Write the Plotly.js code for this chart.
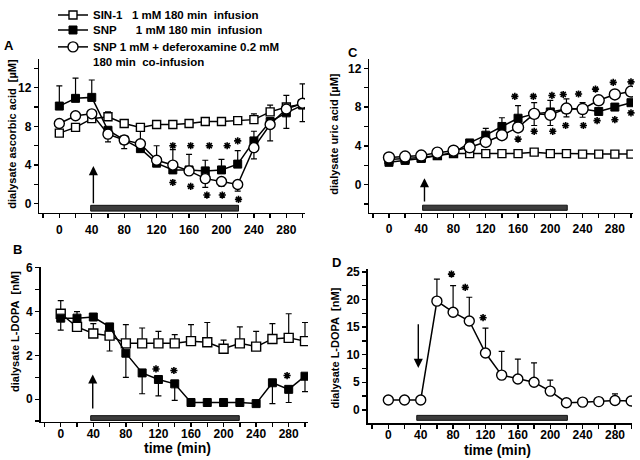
<!DOCTYPE html>
<html>
<head>
<meta charset="utf-8">
<script src="https://cdn.plot.ly/plotly-3.0.1.min.js"></script>
<style>html,body{margin:0;padding:0;background:#fff}#chart{width:640px;height:460px}</style>
</head>
<body>
<div id="chart"></div>
<script>
// ---------- data ----------
const times = [0,20,40,60,80,100,120,140,160,180,200,220,240,260,280,300];
const xTickVals = [0,40,80,120,160,200,240,280];

// Panel A: dialysate ascorbic acid [uM]
const sin1A      = [7.3,7.9,8.8,9.0,8.3,7.9,8.2,8.2,8.3,8.5,8.5,8.6,8.7,9.5,10.0,10.3];
const sin1A_up   = [0,0,0,0.5,0,0,0,0,0,0,0,0,0.6,0.7,1.2,0];
const sin1A_dn   = [0,0,0,0,0,1.5,0,0,0,0,0,0,0,0,0,0];
const snpA       = [10.1,10.9,11.0,7.6,6.6,5.7,4.2,3.5,3.5,3.4,3.5,4.1,6.5,8.5,9.4,10.2];
const snpA_up    = [2.1,2.1,1.8,0,0,0,0,0,1.6,1.1,1.1,1.4,1.0,0,0,0];
const snpA_dn    = [0,0,0,0,0,0,0,0,0,0,0,0,0,0,1.6,0];
const dfoA       = [8.3,9.1,9.3,7.2,6.6,6.2,4.5,4.0,3.4,2.6,2.3,2.0,5.8,8.2,9.8,10.4];
const dfoA_up    = [0,0,0,0,0,0,1.5,1.6,0,0,0,0,0,0,0,2.0];
const dfoA_dn    = [0,0,0,0.8,0.9,0,0,0,0,0.9,0.5,0.7,1.15,1.7,0,1.9];
const starsA_x   = [140,162,185,207,220, 140,162,182,201,221];
const starsA_y   = [6.0,6.0,6.0,6.0,6.5, 2.2,1.8,0.9,0.9,0.45];

// Panel C: dialysate uric acid [uM]
const sin1C      = [2.6,2.7,2.8,3.0,3.2,3.2,3.2,3.2,3.2,3.35,3.2,3.2,3.15,3.15,3.15,3.15];
const snpC       = [2.3,2.5,2.7,3.0,3.3,4.3,5.1,6.0,6.85,7.3,7.5,7.8,7.8,7.55,8.0,8.45];
const snpC_up    = [0,0,0,0,0,0,0.7,0.9,1.3,0,1.2,0,0,0,0,0];
const dfoC       = [2.8,2.9,3.0,3.3,3.5,3.85,4.4,5.1,5.9,7.3,7.2,7.85,7.8,8.7,9.3,9.6];
const dfoC_up    = [0,0,0,0,0,0,0,0,0,1.15,0,1.0,0.65,0,0,0];
const dfoC_dn    = [0,0,0,0,0,0,0,0,0,1.2,1.1,0.85,0.85,0,0,0];
const starsC_x   = [156,179,202,216,235,256,278,300, 160,180,203,219,241,258,280,300];
const starsC_y   = [9.1,9.1,9.2,9.3,9.35,9.85,10.55,10.6, 4.7,5.5,5.5,6.1,6.1,6.6,6.7,7.4];

// Panel B: dialysate L-DOPA [nM]
const sin1B      = [3.9,3.3,3.0,2.9,2.55,2.55,2.55,2.55,2.65,2.6,2.3,2.55,2.4,2.75,2.8,2.65];
const sin1B_up   = [0.6,0.7,0.45,0,0.85,0.7,0.55,0.4,0.75,0.9,0.4,0.75,0.7,0.7,1.1,0.85];
const sin1B_dn   = [0,0,0,0.7,0,0,0,0,0,0,0,0,0,0,0,0];
const snpB       = [3.7,3.7,3.75,3.3,2.1,1.2,0.9,0.7,-0.15,-0.15,-0.15,-0.15,-0.2,0.75,0.45,1.05];
const snpB_dn    = [0.55,0,0,0,1.1,0.95,0.75,0.75,0,0,0,0,0,0.95,0.6,0.7];
const starsB_x   = [117,139,278];
const starsB_y   = [1.38,1.31,1.08];

// Panel D: dialysate L-DOPA [nM] (SNP + deferoxamine)
const dfoD       = [1.8,1.8,1.8,19.7,17.7,16.1,10.3,6.3,5.6,5.0,3.4,1.3,1.4,1.5,1.7,1.6];
const dfoD_up    = [0,0,0,4.0,4.8,4.3,4.5,4.3,3.6,3.5,2.0,0,0,0,1.2,0];
const starsD_x   = [58,78,95,117];
const starsD_y   = [26.2,24.6,22.2,16.7];

// infusion bars [start, end] and arrow times per panel
const barA = [38.7,221]; const arrowA = 42;
const barC = [41.7,221]; const arrowC = 44;
const barB = [36.8,219.3]; const arrowB = 39.3;
const barD = [35.1,221.2]; const arrowD = 37;

const legendNames = [
  'SIN-1\u00a0\u00a0 1 mM 180 min\u00a0 infusion',
  'SNP\u00a0\u00a0\u00a0\u00a0\u00a0 1 mM 180 min\u00a0 infusion',
  'SNP 1 mM + deferoxamine 0.2 mM<br>180 min\u00a0 co-infusion'
];

// ---------- styles ----------
const W = 640, H = 460;
const fx = p => p / W;
const fy = p => 1 - p / H;
const openSq   = {symbol:'square', size:8, color:'#fff', line:{color:'#000', width:1.4}};
const filledSq = {symbol:'square', size:8, color:'#000', line:{color:'#000', width:1}};
const openCirc = {symbol:'circle', size:10, color:'#fff', line:{color:'#000', width:1.4}};
const lineSt = {color:'#000', width:1.5};

function series(xa, ya, y, up, dn, marker, extra) {
  const tr = {
    type:'scatter', mode:'lines+markers', x: times, y: y, xaxis: xa, yaxis: ya,
    line: lineSt, marker: marker, showlegend: false, hoverinfo:'skip'
  };
  if (up || dn) {
    tr.error_y = {type:'data', symmetric:false,
      array: up || times.map(()=>0), arrayminus: dn || times.map(()=>0),
      color:'#000', thickness:1.2, width:3};
  }
  return Object.assign(tr, extra || {});
}
function stars(xa, ya, xs, ys) {
  return {type:'scatter', mode:'markers', x: xs, y: ys, xaxis: xa, yaxis: ya,
    marker:{symbol:'asterisk-open', size:6, color:'#000', line:{color:'#000', width:1.6}},
    showlegend:false, hoverinfo:'skip', cliponaxis:false};
}

const traces = [
  series('x','y', sin1A, sin1A_up, sin1A_dn, openSq, {name: legendNames[0], showlegend:true, legend:'legend'}),
  series('x','y', snpA, snpA_up, snpA_dn, filledSq, {name: legendNames[1], showlegend:true, legend:'legend2'}),
  series('x','y', dfoA, dfoA_up, dfoA_dn, openCirc, {name: legendNames[2], showlegend:true, legend:'legend3'}),
  stars('x','y', starsA_x, starsA_y),

  series('x2','y2', sin1C, null, null, openSq),
  series('x2','y2', snpC, snpC_up, null, filledSq),
  series('x2','y2', dfoC, dfoC_up, dfoC_dn, Object.assign({}, openCirc, {size:11})),
  stars('x2','y2', starsC_x, starsC_y),

  series('x3','y3', sin1B, sin1B_up, sin1B_dn, Object.assign({}, openSq, {size:9})),
  series('x3','y3', snpB, null, snpB_dn, filledSq),
  stars('x3','y3', starsB_x, starsB_y),

  series('x4','y4', dfoD, dfoD_up, null, openCirc),
  stars('x4','y4', starsD_x, starsD_y)
];

const tickFont = {family:'Liberation Sans, Arial, sans-serif', size:12, color:'#000', weight:'bold'};
function xAxis(dom, range, anchor, standoff) {
  return {domain: dom, range: range, anchor: anchor, showgrid:false, zeroline:false,
    showline:true, linecolor:'#000', linewidth:1.5, ticks:'outside', ticklen:4, tickwidth:1.3,
    tickcolor:'#000', tickvals: xTickVals, tickfont: tickFont, ticklabelstandoff: standoff,
    minor:{dtick:20, tick0:0, ticks:'outside', ticklen:4, tickwidth:1.3, tickcolor:'#000'},
    fixedrange:true};
}
function yAxis(dom, range, dtick, minor, anchor) {
  return {domain: dom, range: range, anchor: anchor, showgrid:false, zeroline:false,
    showline:true, linecolor:'#000', linewidth:1.5, ticks:'outside', ticklen:4, tickwidth:1.3,
    tickcolor:'#000', tick0:0, dtick: dtick, tickfont: tickFont,
    minor:{dtick: minor, tick0:0, ticks:'outside', ticklen:4, tickwidth:1.3, tickcolor:'#000'},
    fixedrange:true};
}

const titleFont = {family:'Liberation Sans, Arial, sans-serif', size:11, color:'#000', weight:'bold'};
const bigFont = {family:'Liberation Sans, Arial, sans-serif', size:14, color:'#000', weight:'bold'};
const letterFont = {family:'Liberation Sans, Arial, sans-serif', size:13, color:'#000', weight:'bold'};
function note(text, px, py, font, angle) {
  return {text: text, xref:'paper', yref:'paper', x: fx(px), y: fy(py),
    xanchor:'center', yanchor:'middle', showarrow:false, font: font, textangle: angle || 0};
}
function arrow(xr, yr, x, tipY, tailY) {
  return {xref: xr, yref: yr, axref: xr, ayref: yr, x: x, y: tipY, ax: x, ay: tailY,
    text:'', showarrow:true, arrowhead:2, arrowsize:1.3, arrowwidth:1.4, arrowcolor:'#000', standoff:0, startstandoff:0};
}
function bar(xr, yr, span, y0, y1) {
  return {type:'rect', xref: xr, yref: yr, x0: span[0], x1: span[1], y0: y0, y1: y1,
    fillcolor:'#3c3c3c', line:{color:'#111', width:1}};
}

const legFont = {family:'Liberation Sans, Arial, sans-serif', size:11.5, color:'#000', weight:'bold'};
const legBase = {xanchor:'left', bgcolor:'rgba(0,0,0,0)', borderwidth:0, font: legFont, itemclick:false, itemdoubleclick:false};

const layout = {
  width: W, height: H, margin:{l:0, r:0, t:0, b:0},
  paper_bgcolor:'#fff', plot_bgcolor:'#fff', showlegend:true,
  font:{family:'Liberation Sans, Arial, sans-serif', color:'#000'},
  legend:  Object.assign({x: fx(53), y: fy(1),  yanchor:'middle'}, legBase),
  legend2: Object.assign({x: fx(53), y: fy(16.5), yanchor:'middle'}, legBase),
  legend3: Object.assign({x: fx(53), y: fy(19.5),   yanchor:'top', valign:'top'}, legBase),
  xaxis:  xAxis([fx(39.3), fx(305)], [-24.7, 303], 'y', 1),
  yaxis:  yAxis([1 - 205/H, 1 - 46.7/H], [-0.93, 14.94], 4, 2, 'x'),
  xaxis2: xAxis([fx(369.3), fx(633)], [-24.4, 302.5], 'y2', 0),
  yaxis2: yAxis([1 - 205/H, 1 - 46.7/H], [-2.9, 12.93], 4, 2, 'x2'),
  xaxis3: xAxis([fx(40.7), fx(308)], [-24.6, 303.7], 'y3', -4),
  yaxis3: yAxis([1 - 420.7/H, 1 - 261/H], [-1.035, 6.03], 2, 1, 'x3'),
  xaxis4: xAxis([fx(367.7), fx(632)], [-25.5, 301], 'y4', -4),
  yaxis4: yAxis([1 - 422.3/H, 1 - 263.3/H], [-2.46, 25.47], 5, 2.5, 'x4'),
  shapes: [
    bar('x','y', barA, -0.76, -0.16),
    bar('x2','y2', barC, -2.65, -2.12),
    bar('x3','y3', barB, -0.97, -0.75),
    bar('x4','y4', barD, -1.9, -1.0)
  ],
  annotations: [
    note('A', 8.5, 32, letterFont),
    note('C', 353, 40, letterFont),
    note('B', 17.5, 243, letterFont),
    note('D', 336, 256.5, letterFont),
    note('dialysate ascorbic acid\u00a0 [\u00b5M]', 12.5, 124, titleFont, -90),
    note('dialysate uric acid [\u00b5M]', 334, 123.5, titleFont, -90),
    note('dialysate L-DOPA\u00a0 [nM]', 15, 328, titleFont, -90),
    note('dialysate L-DOPA\u00a0 [nM]', 334, 345, titleFont, -90),
    note('time (min)', 177, 447.5, bigFont),
    note('time (min)', 497.5, 450, bigFont),
    arrow('x','y', arrowA, 3.9, -0.1),
    arrow('x2','y2', arrowC, 0.67, -1.9),
    arrow('x3','y3', arrowB, 1.13, -0.49),
    arrow('x4','y4', arrowD, 7.6, 15.8)
  ]
};

Plotly.newPlot('chart', traces, layout, {staticPlot:true, displayModeBar:false});
</script>
</body>
</html>
